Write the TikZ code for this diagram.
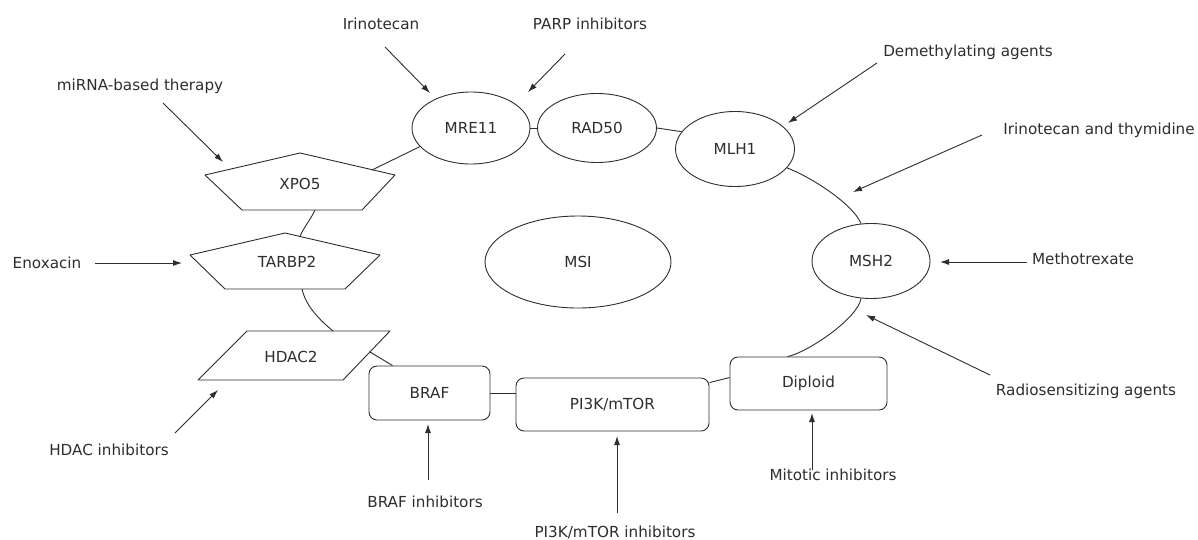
\documentclass[tikz,border=0pt]{standalone}
\usepackage{fontspec}
\setmainfont{DejaVu Sans}
\usetikzlibrary{shapes.geometric,arrows.meta,calc}
\definecolor{ink}{HTML}{2E2E2E}
\begin{document}
\begin{tikzpicture}[x=1pt,y=-1pt,
  font=\fontsize{15.2}{18}\selectfont, line width=0.9pt, draw=ink, text=ink,
  ell/.style={draw, ellipse, inner sep=0pt},
  rbox/.style={draw, rounded corners=8pt, inner sep=0pt},
  shp/.style={draw, line join=round},
  lbl/.style={inner sep=0pt},
  arr/.style={-{Latex[length=9pt,width=6pt]}}]
\useasboundingbox[fill=white] (0,0) rectangle (1198,539);

% ellipses
\node[ell, minimum width=118pt, minimum height=72pt] (MRE11) at (471,128) {MRE11};
\node[ell, minimum width=119pt, minimum height=69pt] (RAD50) at (597,128) {RAD50};
\node[ell, minimum width=119pt, minimum height=75pt] (MLH1) at (735,149) {MLH1};
\node[ell, minimum width=118pt, minimum height=75pt] (MSH2) at (871,261) {MSH2};
\node[ell, minimum width=186pt, minimum height=92pt] (MSI) at (578,262) {MSI};

% boxes
\node[rbox, minimum width=121pt, minimum height=54pt] (BRAF) at (429.5,393) {BRAF};
\node[rbox, minimum width=193pt, minimum height=53pt] (PI3K) at (612.5,404.5) {PI3K/mTOR};
\node[rbox, minimum width=157pt, minimum height=53pt] (Diploid) at (808.5,383.5) {Diploid};

% pentagons and parallelogram
\draw[shp] (300,153) -- (395,175) -- (362,210) -- (242,210) -- (205,175) -- cycle;
\node[lbl] (XPO5) at (300,184) {XPO5};
\draw[shp] (285,233) -- (380,255) -- (345,289) -- (225,289) -- (190,255) -- cycle;
\node[lbl] (TARBP2) at (287,262) {TARBP2};
\draw[shp] (247,331) -- (390,331) -- (343,380) -- (198,380) -- cycle;
\node[lbl] (HDAC2) at (291,357) {HDAC2};

\coordinate (xpoNE) at (372,170);
\coordinate (xpoB) at (315,210);
\coordinate (tarT) at (300,236.5);
\coordinate (tarB) at (302,289);
\coordinate (hdT) at (333,331);
\coordinate (hdR) at (370,352);

% ring links
\draw (MRE11.east) -- (RAD50.west);
\draw (RAD50.east) -- (MLH1.162);
\draw (MLH1.-20) .. controls +(22,8) and +(-8,-20) .. (MSH2.105);
\draw ($(Diploid.north)+(-21,0)$) .. controls +(20,-4) and +(-3,20) .. (MSH2.-105);
\draw ($(PI3K.north east)+(0,5)$) -- ($(Diploid.north west)+(0,21)$);
\draw (BRAF.east) -- (BRAF.east -| PI3K.west);
\draw (hdR) -- ($(BRAF.north west)+(24,0)$);
\draw (tarB) .. controls +(4,18) and +(-12,-10) .. (hdT);
\draw (xpoB) .. controls +(-4,9) and +(3,-8) .. (tarT);
\draw (MRE11.200) -- (xpoNE);

% labels
\node[lbl] (irino) at (381,24) {Irinotecan};
\node[lbl] (parp) at (590,24) {PARP inhibitors};
\node[lbl] (demeth) at (968,52) {Demethylating agents};
\node[lbl, anchor=west] (irthy) at (1003,130) {Irinotecan and thymidine};
\node[lbl] (metho) at (1083,259) {Methotrexate};
\node[lbl] (radio) at (1086,391) {Radiosensitizing agents};
\node[lbl] (mitot) at (833,475) {Mitotic inhibitors};
\node[lbl] (pi3ki) at (615,532) {PI3K/mTOR inhibitors};
\node[lbl] (brafi) at (425,502) {BRAF inhibitors};
\node[lbl] (hdaci) at (109,450) {HDAC inhibitors};
\node[lbl] (enox) at (47,263) {Enoxacin};
\node[lbl] (mirna) at (140,86) {miRNA-based therapy};

% arrow ends
\coordinate (s1) at (385,47);  \coordinate (e1) at (430,93);
\coordinate (s2) at (565,54);  \coordinate (e2) at (528,92);
\coordinate (s3) at (877,63);  \coordinate (e3) at (788,123);
\coordinate (s4) at (982,135); \coordinate (e4) at (853,192);
\coordinate (s5) at (1027,262); \coordinate (e5) at (940,262);
\coordinate (s6) at (990,375); \coordinate (e6) at (866,315);
\coordinate (s7) at (812,470); \coordinate (e7) at (812,413);
\coordinate (s8) at (617,513); \coordinate (e8) at (617,436);
\coordinate (s9) at (428,480); \coordinate (e9) at (428,424);
\coordinate (s10) at (175,433); \coordinate (e10) at (218,390);
\coordinate (s11) at (95,263); \coordinate (e11) at (182,263);
\coordinate (s12) at (163,103); \coordinate (e12) at (223,162);

\foreach \i in {1,...,12} {\draw[arr] (s\i) -- (e\i);}
\end{tikzpicture}
\end{document}
